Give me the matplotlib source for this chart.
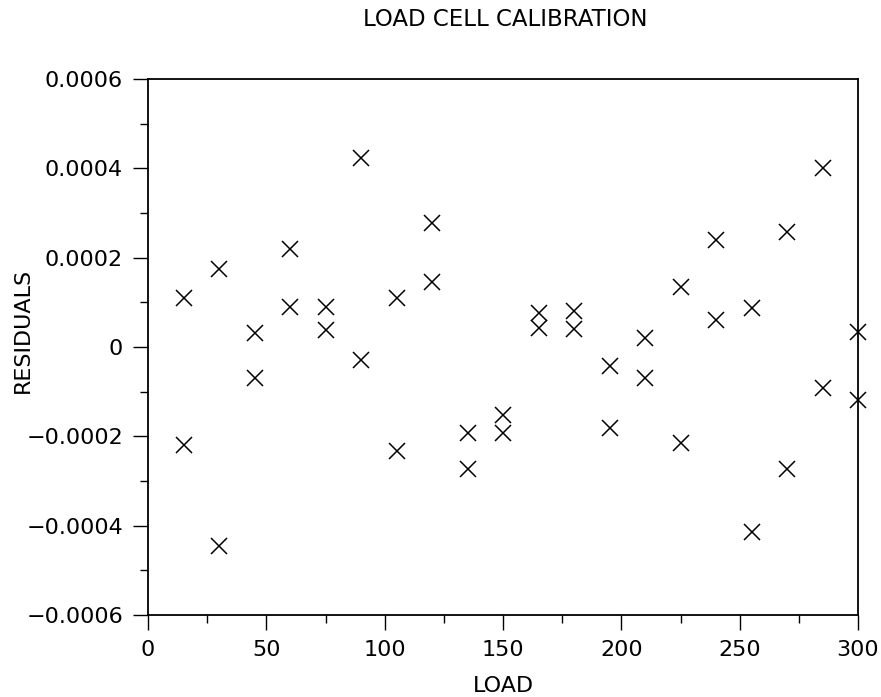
import matplotlib
matplotlib.use('Agg')
import matplotlib.pyplot as plt
from matplotlib.ticker import MultipleLocator, FuncFormatter

# load levels, each measured twice
LOADS = [15, 30, 45, 60, 75, 90, 105, 120, 135, 150,
         165, 180, 195, 210, 225, 240, 255, 270, 285, 300]

RESID_RUN1 = [0.000109, 0.000174, 0.0000307, 0.000219, 0.0000889,
              0.000423, 0.000109, 0.000277, -0.000193, -0.000152,
              0.0000755, 0.0000813, -0.0000425, 0.0000195, 0.000134,
              0.000240, 0.0000867, 0.000257, 0.000400, 0.0000343]
RESID_RUN2 = [-0.000219, -0.000446, -0.0000701, 0.0000889, 0.0000380,
              -0.0000291, -0.000232, 0.000146, -0.000274, -0.000192,
              0.0000419, 0.0000396, -0.000181, -0.0000701, -0.000216,
              0.0000605, -0.000414, -0.000274, -0.0000925, -0.000119]

TITLE = 'LOAD CELL CALIBRATION'
X_LABEL = 'LOAD'
Y_LABEL = 'RESIDUALS'

plt.rcParams['font.family'] = ['DejaVu Sans']

fig = plt.figure(figsize=(8.81, 6.97), dpi=100)
left, width = 148 / 881, 710 / 881
bottom, height = 1 - 615 / 697, 536 / 697
ax = fig.add_axes([left, bottom, width, height])

ax.plot(LOADS + LOADS, RESID_RUN1 + RESID_RUN2, linestyle='none',
        marker='x', markersize=11, markeredgewidth=1.1, color='black',
        clip_on=False)

ax.set_xlim(0, 300)
ax.set_ylim(-0.0006, 0.0006)
ax.xaxis.set_major_locator(MultipleLocator(50))
ax.xaxis.set_minor_locator(MultipleLocator(25))
ax.yaxis.set_major_locator(MultipleLocator(0.0002))
ax.yaxis.set_minor_locator(MultipleLocator(0.0001))


def fmt_resid(v, pos):
    if abs(v) < 1e-12:
        return '0'
    return f'{v:.4f}'.replace('-', '\u2212')


ax.yaxis.set_major_formatter(FuncFormatter(fmt_resid))
ax.xaxis.set_major_formatter(FuncFormatter(lambda v, p: f'{v:.0f}'))

ax.tick_params(which='major', direction='out', length=11, width=1.0,
               labelsize=16, pad=7, top=False, right=False)
ax.tick_params(which='minor', direction='out', length=6, width=1.0,
               top=False, right=False)
for sp in ax.spines.values():
    sp.set_linewidth(1.3)

ax.set_xlabel(X_LABEL, fontsize=16)
ax.xaxis.set_label_coords(0.5, (615 - 686) / 536)
ax.xaxis.label.set_va('center')
ax.set_ylabel(Y_LABEL, fontsize=16)
ax.yaxis.set_label_coords((23 - 148) / 710, (615 - 330) / 536)
ax.yaxis.label.set_va('center')

fig.text(505 / 881, 1 - 20 / 697, TITLE, ha='center', va='center', fontsize=16.5)

fig.savefig('out.png', dpi=100)
